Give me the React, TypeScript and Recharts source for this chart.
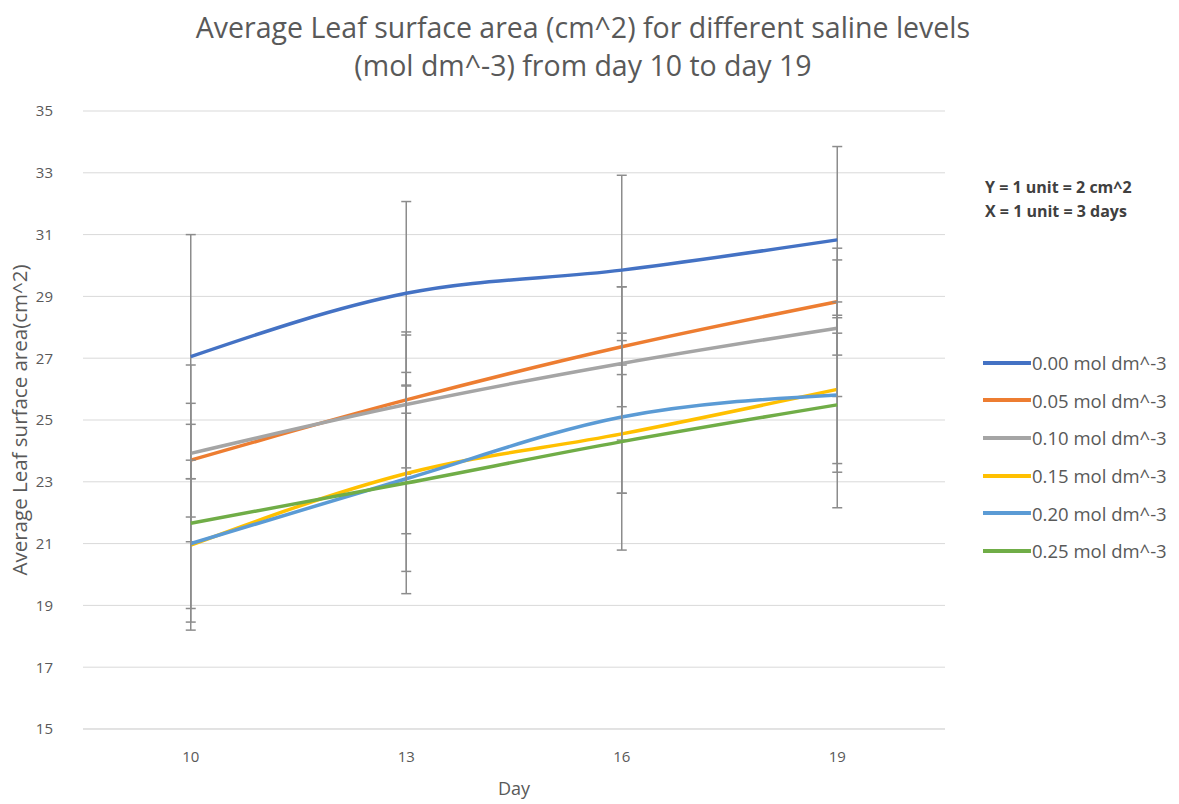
import { LineChart, Line, XAxis, YAxis, CartesianGrid, ErrorBar } from 'recharts'

// days measured
const days = [10, 13, 16, 19]

// mean leaf surface area (cm^2) per saline level, with error (+/-)
const saline000 = [27.05, 29.1, 29.85, 30.83]
const saline000Err = [3.95, 2.97, 3.07, 3.02]
const saline005 = [23.7, 25.65, 27.37, 28.83]
const saline005Err = [1.84, 2.2, 1.94, 1.73]
const saline010 = [23.92, 25.5, 26.83, 27.97]
const saline010Err = [2.86, 2.25, 2.48, 2.21]
const saline015 = [20.95, 23.27, 24.55, 25.99]
const saline015Err = [2.75, 1.95, 1.92, 2.4]
const saline020 = [21.0, 23.1, 25.1, 25.81]
const saline020Err = [2.1, 3.0, 2.47, 2.5]
const saline025 = [21.66, 22.96, 24.3, 25.49]
const saline025Err = [3.2, 3.58, 3.51, 3.33]

const yTicks = [15, 17, 19, 21, 23, 25, 27, 29, 31, 33, 35]

const series = [
  { key: 's000', name: '0.00 mol dm^-3', color: '#4472C4', values: saline000, errors: saline000Err },
  { key: 's005', name: '0.05 mol dm^-3', color: '#ED7D31', values: saline005, errors: saline005Err },
  { key: 's010', name: '0.10 mol dm^-3', color: '#A5A5A5', values: saline010, errors: saline010Err },
  { key: 's015', name: '0.15 mol dm^-3', color: '#FFC000', values: saline015, errors: saline015Err },
  { key: 's020', name: '0.20 mol dm^-3', color: '#5B9BD5', values: saline020, errors: saline020Err },
  { key: 's025', name: '0.25 mol dm^-3', color: '#70AD47', values: saline025, errors: saline025Err },
]

const data = days.map((day, i) => {
  const row: Record<string, number> = { day }
  series.forEach((s) => {
    row[s.key] = s.values[i]
    row[`${s.key}Err`] = s.errors[i]
  })
  return row
})

const FONT = '"Open Sans", "Noto Sans", sans-serif'
const TEXT = '#595959'

// legend drawn beside the plot, one row per saline level
function LegendList() {
  return (
    <div style={{ position: 'absolute', left: 983, top: 344, fontFamily: FONT }}>
      {series.map((s) => (
        <div key={s.key} style={{ display: 'flex', alignItems: 'center', height: 37.6 }}>
          <svg width={49} height={6}>
            <line x1={0} y1={3} x2={48} y2={3} stroke={s.color} strokeWidth={4} />
          </svg>
          <span style={{ fontSize: 18.5, color: TEXT, whiteSpace: 'nowrap' }}>{s.name}</span>
        </div>
      ))}
    </div>
  )
}

export default function App() {
  return (
    <div style={{ position: 'absolute', left: 0, top: 0, width: 1179, height: 804, background: '#fff' }}>
      <div
        style={{
          position: 'absolute',
          left: 0,
          top: 8,
          width: 1166,
          textAlign: 'center',
          fontFamily: FONT,
          fontSize: 28.5,
          lineHeight: '38px',
          color: TEXT,
        }}
      >
        Average Leaf surface area (cm^2) for different saline levels
        <br />
        (mol dm^-3) from day 10 to day 19
      </div>
      <div
        style={{
          position: 'absolute',
          left: 985,
          top: 175,
          fontFamily: FONT,
          fontSize: 16,
          fontWeight: 700,
          lineHeight: '24px',
          color: '#404040',
        }}
      >
        <div>Y = 1 unit = 2 cm^2</div>
        <div>X = 1 unit = 3 days</div>
      </div>
      <LineChart
        width={1179}
        height={804}
        data={data}
        margin={{ top: 111, right: 234, bottom: 0, left: 0 }}
        style={{ fontFamily: FONT }}
      >
        <CartesianGrid vertical={false} stroke="#d9d9d9" />
        <XAxis
          dataKey="day"
          type="number"
          domain={[8.5, 20.5]}
          ticks={days}
          height={75}
          axisLine={{ stroke: '#d9d9d9' }}
          tickLine={false}
          tickMargin={16}
          tick={{ fill: TEXT, fontSize: 15 }}
          label={{ value: 'Day', position: 'insideBottom', offset: 9, fill: TEXT, fontSize: 18 }}
        />
        <YAxis
          type="number"
          domain={[15, 35]}
          ticks={yTicks}
          width={83}
          axisLine={false}
          tickLine={false}
          tickMargin={24}
          tick={{ fill: TEXT, fontSize: 15 }}
          label={{
            value: 'Average Leaf surface area(cm^2)',
            angle: -90,
            position: 'insideLeft',
            offset: 20,
            fill: TEXT,
            fontSize: 20.5,
            style: { textAnchor: 'middle' },
          }}
        />
        {series.map((s) => (
          <Line
            key={s.key}
            type="monotone"
            dataKey={s.key}
            name={s.name}
            stroke={s.color}
            strokeWidth={3.5}
            dot={false}
            isAnimationActive={false}
          >
            <ErrorBar dataKey={`${s.key}Err`} direction="y" width={5} stroke="#8c8c8c" strokeWidth={1.5} />
          </Line>
        ))}
      </LineChart>
      <LegendList />
    </div>
  )
}
